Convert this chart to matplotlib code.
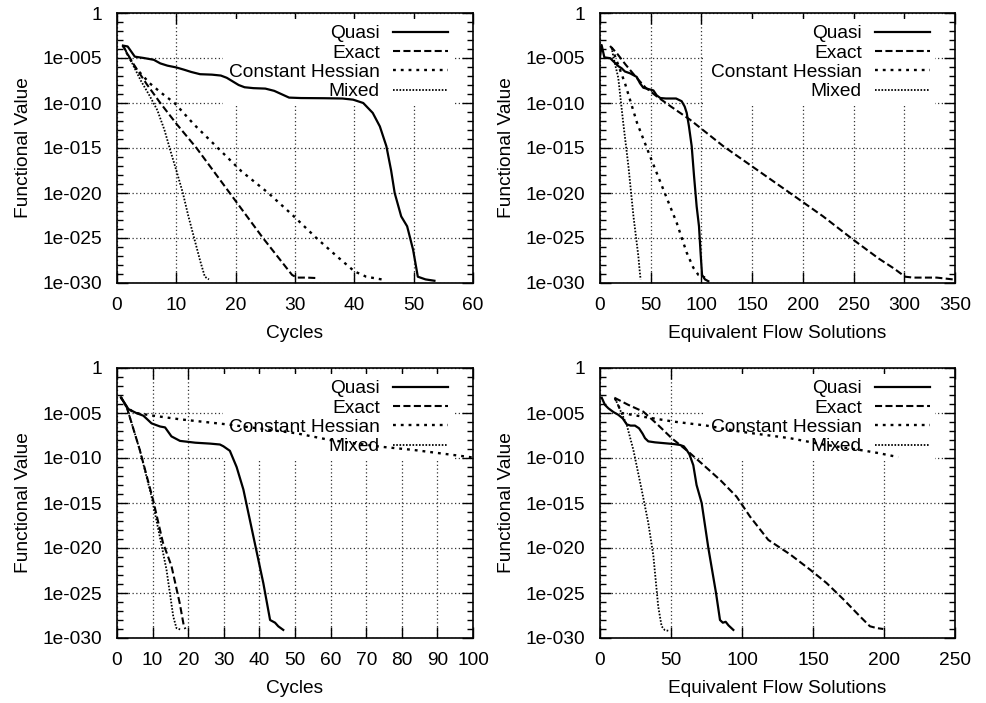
import numpy as np
import matplotlib
matplotlib.use('Agg')
import matplotlib.pyplot as plt
from matplotlib.ticker import FixedLocator, NullFormatter

plt.rcParams['font.family'] = ['Liberation Sans', 'DejaVu Sans']
plt.rcParams['font.size'] = 13.8

labels = ['Quasi', 'Exact', 'Constant Hessian', 'Mixed']

# Convergence histories, functional value stored as log10 exponent
# --- case A vs. design cycles ---
cyc_a_quasi_x = [1, 1.8, 3, 4.5, 6.2, 7.3, 8.5, 10, 11.3, 12.5, 14, 16, 17.5, 18.5, 19.5, 20.5,
                 21.5, 23, 25, 26.5, 28, 29, 31, 35, 38, 39.8, 41.5, 43.1, 44.3, 45.4, 46.2,
                 46.8, 47.9, 48.9, 49.9, 50.7, 52, 53.5]
cyc_a_quasi_y = [-3.62, -3.72, -4.85, -5.0, -5.2, -5.6, -5.85, -6.05, -6.3, -6.55, -6.8, -6.85,
                 -6.95, -7.2, -7.6, -8.0, -8.25, -8.35, -8.4, -8.65, -9.1, -9.4, -9.45, -9.47,
                 -9.5, -9.63, -10.0, -11.1, -12.6, -14.8, -17.5, -20.0, -22.6, -23.7, -26.3,
                 -29.3, -29.6, -29.75]
cyc_a_exact_x = [1, 2, 3, 5, 7.3, 10, 13.4, 19, 24.6, 29.5, 30.3, 32, 33.6]
cyc_a_exact_y = [-3.62, -4.8, -5.9, -7.9, -10.0, -12.3, -15.0, -20.0, -25.0, -29.1, -29.4,
                 -29.4, -29.45]
cyc_a_const_x = [1, 2, 3, 5.5, 7.5, 9.7, 13, 17, 21, 25.5, 29.5, 33.6, 37, 40, 42, 44.6]
cyc_a_const_y = [-3.62, -4.9, -6.0, -7.8, -8.9, -10.0, -12.4, -15.0, -17.6, -20.0, -22.4,
                 -25.0, -27.0, -28.7, -29.3, -29.6]
cyc_a_mixed_x = [1, 2.5, 4, 5.5, 6.8, 8, 9, 10, 11.1, 12, 13, 14, 14.8, 15.5]
cyc_a_mixed_y = [-3.62, -5.5, -7.5, -9.2, -10.8, -13.0, -15.3, -17.5, -20.0, -22.5, -25.0,
                 -27.5, -29.3, -29.6]

# --- case A vs. equivalent flow solutions ---
flow_a_quasi_x = [0, 1.6, 4.3, 10, 14.8, 18, 21.4, 24.6, 29.6, 36.2, 39.4, 42.7, 47.6, 52.6,
                  55.9, 59.5, 65, 75, 80.5, 83.5, 85.5, 87.7, 90.4, 92.7, 95.3, 97.6, 99.2,
                  100.6, 103.5, 106.8]
flow_a_quasi_y = [-4.9, -3.56, -4.93, -5.02, -5.55, -5.9, -6.15, -6.5, -6.7, -7.1, -7.8, -8.3,
                  -8.45, -8.6, -9.15, -9.45, -9.5, -9.5, -9.8, -10.4, -11.1, -12.6, -14.8,
                  -18.1, -21.5, -23.7, -26.7, -29.1, -29.6, -29.8]
flow_a_exact_x = [9.9, 16.4, 25, 36.1, 45, 55.9, 70, 88.7, 121.6, 154.5, 187.3, 220, 249.8,
                  275, 290, 300.7, 309, 332, 348]
flow_a_exact_y = [-3.67, -4.44, -5.7, -7.2, -8.3, -9.26, -10.4, -11.85, -14.8, -17.4, -20.0,
                  -22.6, -25.2, -27.3, -28.4, -29.3, -29.4, -29.4, -29.6]
flow_a_const_x = [11.5, 14.8, 24.6, 36.5, 49.3, 62.4, 75.6, 85.4, 92, 97, 103.5]
flow_a_const_y = [-3.8, -4.8, -7.8, -12.2, -15.9, -19.6, -23.3, -26.6, -28.3, -29.1, -29.4]
flow_a_mixed_x = [11.5, 13, 18, 23, 28, 33, 37.8, 39, 40]
flow_a_mixed_y = [-3.8, -4.8, -7.2, -12.3, -17.0, -22.6, -27.0, -28.5, -29.6]

# --- case B vs. design cycles ---
cyc_b_quasi_x = [1.1, 3.2, 5.4, 7.4, 8.5, 9.7, 12.1, 13.5, 15.3, 17.7, 22, 26.1, 28.9, 29.9,
                 31.7, 33.6, 35.5, 38.3, 41.1, 43, 44.4, 45.3, 46.7]
cyc_b_quasi_y = [-3.26, -4.56, -5.0, -5.3, -5.7, -6.15, -6.5, -6.6, -7.6, -8.1, -8.3, -8.4,
                 -8.5, -8.7, -9.2, -11.0, -13.5, -18.7, -23.9, -28.0, -28.3, -28.7, -29.1]
cyc_b_exact_x = [1.1, 2.7, 6.4, 10.1, 12.9, 15.3, 17.6, 18.7, 19.2]
cyc_b_exact_y = [-3.26, -4.3, -9.1, -14.6, -19.4, -22.0, -26.1, -28.5, -29.0]
cyc_b_const_x = [1.1, 2.5, 4.6, 10.2, 17.7, 30.8, 50.5, 59.8, 73.9, 83.2, 98.2, 100]
cyc_b_const_y = [-3.26, -4.2, -4.95, -5.3, -5.7, -6.26, -7.26, -8.0, -8.74, -9.1, -9.85, -9.95]
cyc_b_mixed_x = [1.1, 2.7, 6.4, 9.7, 12, 13.9, 15.8, 16.7, 18.1]
cyc_b_mixed_y = [-3.26, -4.3, -9.1, -14.3, -18.7, -22.4, -27.6, -28.9, -29.1]

# --- case B vs. equivalent flow solutions ---
flow_b_quasi_x = [1.2, 3.5, 5.9, 9.5, 12.9, 16, 18.8, 21.5, 24.6, 27.5, 30, 31.7, 34, 38.7,
                  45, 52, 56.3, 59, 61, 63, 65.7, 68, 71.6, 76.3, 81.7, 84.5, 86.5, 88.5,
                  90.5, 93.9]
flow_b_quasi_y = [-3.3, -4.1, -4.48, -4.9, -5.2, -5.6, -6.26, -6.4, -6.4, -6.7, -7.3, -7.8,
                  -8.15, -8.26, -8.35, -8.45, -8.55, -8.7, -9.1, -9.6, -10.8, -13.0, -15.0,
                  -20.0, -25.0, -28.0, -28.3, -28.2, -28.6, -29.1]
flow_b_exact_x = [10.1, 20, 30.5, 40, 50.5, 62.2, 73, 85, 96.2, 105.6, 118.5, 133.8, 147.9,
                  159.6, 171.4, 183.1, 190.1, 195, 199.5]
flow_b_exact_y = [-3.3, -4.1, -4.85, -6.2, -7.8, -9.3, -10.8, -12.5, -14.3, -16.5, -19.1,
                  -20.7, -22.4, -23.9, -25.7, -27.6, -28.7, -28.9, -29.0]
flow_b_const_x = [10.6, 15.3, 31.7, 51.6, 75, 100, 133.8, 157, 181, 196, 210]
flow_b_const_y = [-3.37, -5.0, -5.45, -5.95, -6.4, -7.1, -7.8, -8.5, -9.05, -9.45, -9.9]
flow_b_mixed_x = [10.6, 14, 18.8, 23.5, 29.3, 34, 37.6, 41, 43.4, 45.5, 48.1]
flow_b_mixed_y = [-3.37, -4.6, -6.3, -9.1, -13.5, -17.2, -20.9, -26.5, -28.7, -29.1, -29.2]

ytick_exp = [0, -5, -10, -15, -20, -25, -30]
ytick_labels = ['1', '1e-005', '1e-010', '1e-015', '1e-020', '1e-025', '1e-030']

styles = [
    dict(ls='-', lw=1.6),
    dict(ls=(0, (3.4, 1.6)), lw=1.5),
    dict(ls=(0, (1.2, 2.1)), lw=1.7),
    dict(ls=(0, (0.9, 0.9)), lw=1.3),
]

panels = [
    # (axes rect, xmax, xstep, xlabel, series)
    ([117 / 987, 1 - 283 / 703, 356 / 987, 270 / 703], 60, 10, 'Cycles',
     [(cyc_a_quasi_x, cyc_a_quasi_y), (cyc_a_exact_x, cyc_a_exact_y),
      (cyc_a_const_x, cyc_a_const_y), (cyc_a_mixed_x, cyc_a_mixed_y)]),
    ([600 / 987, 1 - 283 / 703, 355 / 987, 270 / 703], 350, 50, 'Equivalent Flow Solutions',
     [(flow_a_quasi_x, flow_a_quasi_y), (flow_a_exact_x, flow_a_exact_y),
      (flow_a_const_x, flow_a_const_y), (flow_a_mixed_x, flow_a_mixed_y)]),
    ([117 / 987, 1 - 638 / 703, 356 / 987, 270 / 703], 100, 10, 'Cycles',
     [(cyc_b_quasi_x, cyc_b_quasi_y), (cyc_b_exact_x, cyc_b_exact_y),
      (cyc_b_const_x, cyc_b_const_y), (cyc_b_mixed_x, cyc_b_mixed_y)]),
    ([600 / 987, 1 - 638 / 703, 355 / 987, 270 / 703], 250, 50, 'Equivalent Flow Solutions',
     [(flow_b_quasi_x, flow_b_quasi_y), (flow_b_exact_x, flow_b_exact_y),
      (flow_b_const_x, flow_b_const_y), (flow_b_mixed_x, flow_b_mixed_y)]),
]

fig = plt.figure(figsize=(9.87, 7.03), dpi=100)

for rect, xmax, xstep, xlabel, series in panels:
    ax = fig.add_axes(rect)
    for (xs, ys), label, st in zip(series, labels, styles):
        ax.plot(xs, 10.0 ** np.array(ys), color='black', label=label, zorder=2,
                dash_capstyle='butt', **st)

    ax.set_yscale('log')
    ax.set_ylim(1e-30, 1)
    ax.set_xlim(0, xmax)
    ax.yaxis.set_major_locator(FixedLocator([10.0 ** e for e in ytick_exp]))
    ax.yaxis.set_minor_locator(FixedLocator([10.0 ** -k for k in range(31)]))
    ax.yaxis.set_minor_formatter(NullFormatter())
    ax.set_yticklabels(ytick_labels)
    ax.set_xticks(np.arange(0, xmax + 1, xstep))

    ax.tick_params(which='both', direction='in', top=True, right=True, width=1)
    ax.tick_params(which='major', length=8)
    ax.tick_params(which='minor', length=4.5)
    ax.tick_params(axis='x', pad=10)
    ax.tick_params(axis='y', pad=11)
    for sp in ax.spines.values():
        sp.set_linewidth(1.2)

    ax.set_axisbelow(True)
    ax.grid(True, which='major', color='0.2', linestyle=(0, (1, 2)), linewidth=0.9)

    ax.set_xlabel(xlabel)
    ax.set_ylabel('Functional Value')
    ax.xaxis.set_label_coords(0.5, -0.155)
    ax.yaxis.set_label_coords(-0.24, 0.5)

    leg = ax.legend(loc='upper right', bbox_to_anchor=(0.945, 0.977), borderaxespad=0,
                    markerfirst=False, frameon=True, fancybox=False, framealpha=1,
                    facecolor='white', edgecolor='none', borderpad=0.3,
                    handlelength=2.85, handletextpad=0.7, labelspacing=0.1)
    leg.set_zorder(1.5)

fig.savefig('out.png', dpi=100)
